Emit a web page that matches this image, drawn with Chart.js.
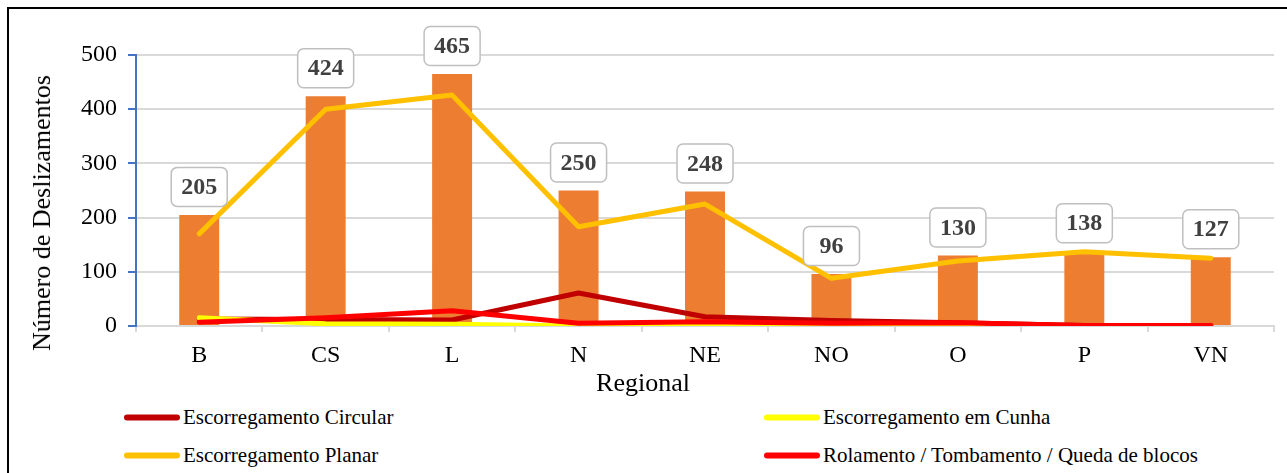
<!DOCTYPE html>
<html>
<head>
<meta charset="utf-8">
<script src="https://cdn.jsdelivr.net/npm/chart.js@4/dist/chart.umd.min.js"></script>
<style>
  html, body { margin: 0; padding: 0; background: #fff; }
  body { width: 1287px; height: 473px; position: relative; overflow: hidden; font-family: "Liberation Serif", "Times New Roman", serif; }
  #frame { position: absolute; left: 7px; top: 7px; width: 1300px; height: 500px; border-top: 2px solid #000; border-left: 2px solid #000; }
  #wrap { position: absolute; left: 0; top: 0; width: 1287px; height: 400px; }
  #ytitle { position: absolute; left: 42px; top: 213px; transform: translate(-50%, -50%) rotate(-90deg); white-space: nowrap; font-size: 26px; color: #000; }
  #xtitle { position: absolute; left: 643px; top: 383px; transform: translate(-50%, -50%); white-space: nowrap; font-size: 26px; color: #000; }
  .leg { position: absolute; display: flex; align-items: center; white-space: nowrap; font-family: "Liberation Serif", "Times New Roman", serif; font-size: 21px; color: #000; transform: translateY(-50%); }
  .leg .sw { width: 56px; height: 6px; border-radius: 3px; margin-right: 3px; }
</style>
</head>
<body>
<div id="frame"></div>
<div id="wrap"><canvas id="c" width="1287" height="400"></canvas></div>
<div id="ytitle">Número de Deslizamentos</div>
<div id="xtitle">Regional</div>
<div id="legend"></div>
<script>
// Regions and landslide counts
const categories = ['B', 'CS', 'L', 'N', 'NE', 'NO', 'O', 'P', 'VN'];
const totals     = [205, 424, 465, 250, 248, 96, 130, 138, 127];
const circular   = [13, 12, 11, 61, 17, 10, 6, 1, 1];
const cunha      = [15, 4, 3, 0, 1, 0, 0, 0, 0];
const planar     = [170, 400, 426, 183, 225, 88, 120, 137, 125];
const rolamento  = [7, 15, 28, 5, 8, 5, 6, 1, 1];
const yTicks     = [0, 100, 200, 300, 400, 500];

const serif = '"Liberation Serif", "Times New Roman", serif';

const lineStyle = (label, data, color, order) => ({
  type: 'line', label, data, borderColor: color, backgroundColor: color,
  borderWidth: 5, pointRadius: 0, pointHoverRadius: 0, tension: 0,
  borderCapStyle: 'round', borderJoinStyle: 'round', order
});

// Boxed value labels above each bar
const barLabels = {
  id: 'barLabels',
  afterDatasetsDraw(chart) {
    const meta = chart.getDatasetMeta(0);
    const ctx = chart.ctx;
    ctx.save();
    ctx.font = 'bold 24px ' + serif;
    ctx.textAlign = 'center';
    ctx.textBaseline = 'middle';
    meta.data.forEach((bar, i) => {
      const w = 56, h = 39;
      const cx = bar.x, cy = bar.y - 28;
      ctx.beginPath();
      ctx.roundRect(cx - w / 2, cy - h / 2, w, h, 6);
      ctx.fillStyle = '#fff';
      ctx.fill();
      ctx.lineWidth = 1.5;
      ctx.strokeStyle = '#bfbfbf';
      ctx.stroke();
      ctx.fillStyle = '#404040';
      ctx.fillText(String(totals[i]), cx, cy + 1);
    });
    ctx.restore();
  }
};

const chart = new Chart(document.getElementById('c'), {
  data: {
    labels: categories,
    datasets: [
      { type: 'bar', label: 'Total', data: totals, backgroundColor: '#ED7D31',
        barPercentage: 0.316, categoryPercentage: 1, order: 5 },
      lineStyle('Escorregamento Circular', circular, '#C00000', 4),
      lineStyle('Escorregamento em Cunha', cunha, '#FFFF00', 3),
      lineStyle('Escorregamento Planar', planar, '#FFC000', 2),
      lineStyle('Rolamento / Tombamento / Queda de blocos', rolamento, '#FF0000', 1)
    ]
  },
  options: {
    responsive: false,
    animation: false,
    layout: { padding: { left: 0, right: 13, top: 55, bottom: 4 } },
    plugins: { legend: { display: false }, tooltip: { enabled: false } },
    scales: {
      x: {
        grid: { display: true, drawOnChartArea: false, drawTicks: true, tickLength: 6, color: '#d9d9d9', lineWidth: 2 },
        border: { display: true, color: '#d9d9d9', width: 2 },
        ticks: { font: { family: serif, size: 24 }, color: '#000', padding: 9, maxRotation: 0 },
        afterFit(scale) { scale.height = 70; }
      },
      y: {
        min: 0, max: 500,
        afterBuildTicks(scale) { scale.ticks = yTicks.map(v => ({ value: v })); },
        grid: { color: '#d9d9d9', lineWidth: 2, drawTicks: true, tickLength: 8, tickColor: '#4472C4', tickWidth: 2 },
        border: { display: true, color: '#4472C4', width: 2 },
        ticks: { font: { family: serif, size: 24 }, color: '#000', padding: 11 },
        afterFit(scale) { scale.width = 136; }
      }
    }
  },
  plugins: [barLabels]
});

// Two-column legend below the chart
const legendPos = [
  { left: 124, top: 417 }, { left: 764, top: 417 },
  { left: 124, top: 455 }, { left: 764, top: 455 }
];
const legendEl = document.getElementById('legend');
chart.data.datasets.slice(1).forEach((ds, i) => {
  const item = document.createElement('div');
  item.className = 'leg';
  item.style.left = legendPos[i].left + 'px';
  item.style.top = legendPos[i].top + 'px';
  const sw = document.createElement('span');
  sw.className = 'sw';
  sw.style.background = ds.borderColor;
  const tx = document.createElement('span');
  tx.textContent = ds.label;
  item.appendChild(sw);
  item.appendChild(tx);
  legendEl.appendChild(item);
});
</script>
</body>
</html>
